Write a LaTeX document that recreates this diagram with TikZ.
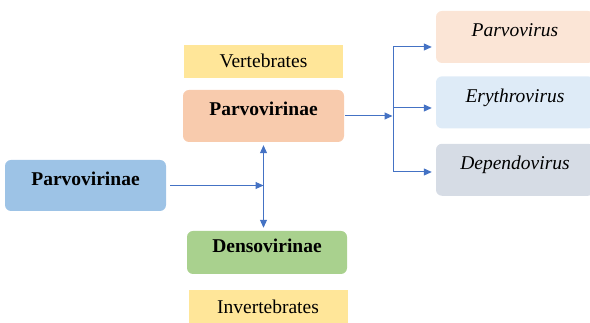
\documentclass[tikz,border=0pt]{standalone}
\usepackage{fontspec}
\setmainfont{Liberation Serif}
\usetikzlibrary{arrows.meta,positioning}
\definecolor{rootblue}{HTML}{9DC3E6}
\definecolor{subpeach}{HTML}{F8CBAD}
\definecolor{subgreen}{HTML}{A9D18E}
\definecolor{tagyellow}{HTML}{FFE699}
\definecolor{genpeach}{HTML}{FBE5D6}
\definecolor{genblue}{HTML}{DEEBF7}
\definecolor{gengrey}{HTML}{D6DCE5}
\definecolor{arrowblue}{HTML}{4472C4}

\begin{document}
\begin{tikzpicture}[x=1pt, y=1pt]
      \useasboundingbox (0,0) rectangle (590,323);
      \begin{scope}[every node/.style={rounded corners=6pt, inner sep=0pt,
          minimum width=161pt, minimum height=52pt, text height=0pt, text depth=0pt,
          font=\fontsize{19.5}{23}\selectfont\bfseries}]
        \node (root)[fill=rootblue, minimum height=51pt] at (85.5,137.5) {Parvovirinae};
        \node (pv)[fill=subpeach] at (263.5,207) {Parvovirinae};
        \node (dens)[fill=subgreen, minimum width=160pt, minimum height=43pt] at (267,70.5) {Densovirinae};
      \end{scope}
      \begin{scope}[every node/.style={inner sep=0pt, minimum width=159pt,
          minimum height=33pt, fill=tagyellow, font=\fontsize{19.5}{23}\selectfont}]
        \node (vert) [above=12pt of pv] {Vertebrates};
        \node (invert) [below=16pt of dens, xshift=1pt] {Invertebrates};
      \end{scope}
      \begin{scope}[every node/.style={rounded corners=6pt, inner sep=0pt,
          minimum width=158pt, minimum height=52pt, text height=0pt, text depth=0pt,
          font=\fontsize{19.5}{23}\selectfont\itshape}]
        \node (parvo)[fill=genpeach] at (515,286) {Parvovirus};
        \node (ery)[fill=genblue] [below=13pt of parvo] {Erythrovirus};
        \node (dep)[fill=gengrey] [below=15pt of ery] {Dependovirus};
      \end{scope}
      \coordinate (fork) at (393,207);
      \coordinate (b1) at (393,276);
      \coordinate (b2) at (393,215);
      \coordinate (b3) at (393,151);
      \begin{scope}
        [every edge/.style={draw=arrowblue, line width=1pt},
        >={Triangle[length=8pt,width=7pt]}]
        \path (root.east) edge[->, shorten <=4pt] (root.east -| pv.south);
        \path (pv.south) edge[<->, shorten <=3pt, shorten >=3pt] (pv.south |- dens.north);
        \path (pv.east) edge[->, shorten <=1pt, shorten >=0.5pt] (fork);
        \path (b1) edge (b3);
        \path (b1) edge[->, shorten >=4pt] (b1 -| parvo.west);
        \path (b2) edge[->, shorten >=4pt] (b2 -| ery.west);
        \path (b3) edge[->, shorten >=4pt] (b3 -| dep.west);
      \end{scope}
    \end{tikzpicture}
\end{document}
